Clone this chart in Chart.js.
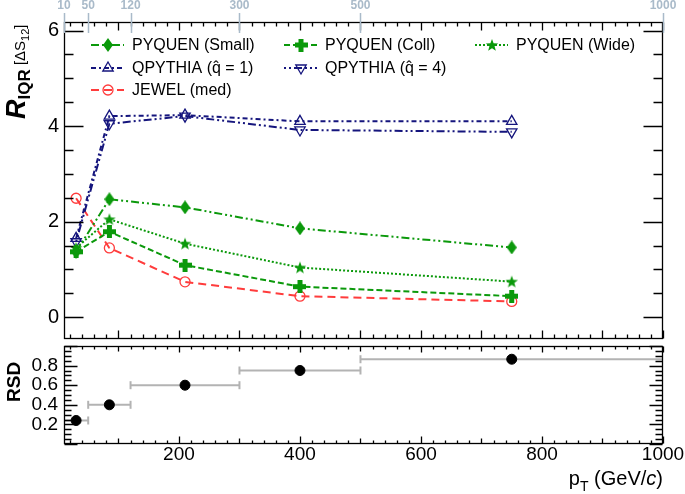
<!DOCTYPE html>
<html>
<head>
<meta charset="utf-8">
<script src="https://cdn.jsdelivr.net/npm/chart.js@4.4.1/dist/chart.umd.min.js"></script>
<style>
  body { margin: 0; background: #fff; width: 685px; height: 494px; overflow: hidden; font-family: "Liberation Sans", Arial, sans-serif; }
  #topBox { position: absolute; left: 0; top: 0; width: 685px; height: 346px; }
  #botBox { position: absolute; left: 0; top: 340px; width: 685px; height: 154px; }
  .ttl { position: absolute; white-space: nowrap; color: #000; transform-origin: 0 0; }
</style>
</head>
<body>
<div id="topBox"><canvas id="rChart"></canvas></div>
<div id="botBox"><canvas id="rsdChart"></canvas></div>

<div class="ttl" id="yTitle" style="left:1px; top:119px; line-height:30px; transform: rotate(-90deg);"><span style="font: italic bold 27px 'Liberation Sans', Arial;">R</span><span style="font: bold 17px 'Liberation Sans', Arial; position: relative; top: 5px;">IQR</span><span style="font: 15px 'Liberation Sans', Arial;"> [ΔS<span style="font-size: 11px; position: relative; top: 4px;">12</span>]</span></div>
<div class="ttl" id="rsdTitle" style="left:4px; top:402px; font: bold 19px 'Liberation Sans', Arial; line-height:19px; transform: rotate(-90deg);">RSD</div>
<div class="ttl" style="right:22px; left:auto; top:468px; font: 20px 'Liberation Sans', Arial; line-height:20px;">p<span style="font-size: 14px; position: relative; top: 6px;">T</span> (GeV/<i>c</i>)</div>

<script>
// pT bins
const ptBins = [30, 85, 210, 400, 750];
const binLow = [10, 50, 120, 300, 500];
const binHigh = [50, 120, 300, 500, 1000];

// R_IQR per model
const pyquenSmall = [1.37, 2.47, 2.30, 1.86, 1.46];
const pyquenColl = [1.37, 1.79, 1.09, 0.64, 0.44];
const pyquenWide = [1.45, 2.05, 1.54, 1.04, 0.745];
const qpythia1 = [1.65, 4.21, 4.23, 4.10, 4.10];
const qpythia4 = [1.58, 4.05, 4.21, 3.92, 3.88];
const jewel = [2.49, 1.45, 0.74, 0.44, 0.33];

// bottom panel
const rsd = [0.24, 0.40, 0.60, 0.75, 0.865];

// tick labels
const topTicks = [10, 50, 120, 300, 500, 1000];
const bottomTicks = [200, 400, 600, 800, 1000];
const rTicks = [0, 2, 4, 6];
const rsdTicks = [0.2, 0.4, 0.6, 0.8];

const green = '#0b990b';
const navy = '#15157d';
const red = '#ff3c3c';
const axisGray = '#a9bac9';

function markerCanvas(kind, color) {
  const c = document.createElement('canvas');
  const g = c.getContext('2d');
  if (kind === 'diamond') {
    c.width = 10; c.height = 14;
    g.fillStyle = color;
    g.beginPath();
    g.moveTo(5, 0); g.lineTo(10, 7); g.lineTo(5, 14); g.lineTo(0, 7);
    g.closePath(); g.fill();
  } else if (kind === 'plus') {
    c.width = 13; c.height = 13;
    g.fillStyle = color;
    g.fillRect(4, 0, 5, 13);
    g.fillRect(0, 4, 13, 5);
  } else if (kind === 'star') {
    c.width = 14; c.height = 14;
    g.fillStyle = color;
    g.beginPath();
    for (let k = 0; k < 10; k++) {
      const r = k % 2 ? 2.7 : 6.5;
      const a = -Math.PI / 2 + k * Math.PI / 5;
      g.lineTo(7 + r * Math.cos(a), 7.5 + r * Math.sin(a));
    }
    g.closePath(); g.fill();
  }
  return c;
}

function series(label, values, color, dash, style, extra) {
  return Object.assign({
    label: label,
    data: values.map((v, i) => ({ x: ptBins[i], y: v })),
    borderColor: color,
    borderWidth: 2,
    borderDash: dash,
    fill: false,
    tension: 0,
    pointStyle: style,
    pointRadius: 6,
    pointBackgroundColor: color,
    pointBorderColor: color,
    pointBorderWidth: 0,
    xAxisID: 'x',
    yAxisID: 'y'
  }, extra || {});
}

// no label overhang padding, fixed axis sizes
function fixHeight(h) {
  return s => { s.height = h; s.paddingLeft = 0; s.paddingRight = 0; };
}
function fixWidth(w) {
  return s => { s.width = w; s.paddingTop = 0; s.paddingBottom = 0; };
}

// inward ROOT-style ticks on all four sides of the frame
function frameTicks(opt) {
  return {
    id: 'frameTicks',
    afterDatasetsDraw(chart) {
      const { ctx, chartArea: a } = chart;
      const xs = chart.scales.x, ys = chart.scales.y;
      const L = Math.round(a.left) + 0.5, R = Math.round(a.right) - 0.5;
      const T = Math.round(a.top) + 0.5, B = Math.round(a.bottom) - 0.5;
      ctx.save();
      ctx.strokeStyle = '#000';
      ctx.lineWidth = 1.3;
      ctx.setLineDash([]);
      ctx.beginPath();
      for (let k = Math.ceil(xs.min / 20); k * 20 <= xs.max; k++) {
        const v = k * 20;
        const px = Math.round(xs.getPixelForValue(v)) + 0.5;
        const big = v % 200 === 0 ? 2 : (v % 100 === 0 ? 1 : 0);
        ctx.moveTo(px, B); ctx.lineTo(px, B - opt.xBottom[big]);
        ctx.moveTo(px, T); ctx.lineTo(px, T + opt.xTop[big]);
      }
      for (let k = Math.ceil(ys.min / opt.yStep - 1e-6); k * opt.yStep <= ys.max + 1e-6; k++) {
        const v = k * opt.yStep;
        const q = v / opt.yMajor;
        const major = Math.abs(q - Math.round(q)) < 1e-6;
        const len = major ? opt.yLen[0] : opt.yLen[1];
        const py = Math.round(ys.getPixelForValue(v)) + 0.5;
        ctx.moveTo(L, py); ctx.lineTo(L + len, py);
        ctx.moveTo(R, py); ctx.lineTo(R - len, py);
      }
      ctx.stroke();
      ctx.strokeRect(L, T, R - L, B - T);
      if (chart.scales.xTop) {
        ctx.strokeStyle = axisGray;
        ctx.lineWidth = 1.5;
        ctx.beginPath();
        chart.scales.xTop.ticks.forEach(t => {
          const px = Math.round(chart.scales.xTop.getPixelForValue(t.value)) + 0.5;
          ctx.moveTo(px, a.top - 9); ctx.lineTo(px, a.top + 11);
        });
        ctx.stroke();
      }
      ctx.restore();
    }
  };
}

const legendSlots = [[91, 45], [284, 45], [475, 45], [91, 68], [284, 68], [91, 90]];

const legendPlugin = {
  id: 'rootLegend',
  afterDraw(chart) {
    const ctx = chart.ctx;
    ctx.save();
    chart.data.datasets.forEach((ds, i) => {
      const [x, y] = legendSlots[i];
      ctx.strokeStyle = ds.borderColor;
      ctx.lineWidth = 2;
      ctx.setLineDash(ds.borderDash);
      ctx.beginPath();
      ctx.moveTo(x, y); ctx.lineTo(x + 33, y);
      ctx.stroke();
      ctx.setLineDash([]);
      ctx.fillStyle = ds.pointBackgroundColor;
      ctx.strokeStyle = ds.pointBorderColor;
      ctx.lineWidth = ds.pointBorderWidth;
      Chart.helpers.drawPoint(ctx, {
        pointStyle: ds.pointStyle,
        rotation: ds.pointRotation || 0,
        radius: ds.pointRadius,
        borderWidth: ds.pointBorderWidth
      }, x + 17, y);
      ctx.fillStyle = '#000';
      ctx.font = "16px 'Liberation Sans', Arial";
      ctx.textBaseline = 'middle';
      ctx.textAlign = 'left';
      ctx.fillText(ds.label, x + 41, y + 1);
    });
    ctx.restore();
  }
};

const open = { pointBackgroundColor: 'rgba(0,0,0,0)', pointBorderWidth: 1.3 };
const plain = v => String(v);

new Chart(document.getElementById('rChart'), {
  type: 'line',
  data: {
    datasets: [
      series('PYQUEN (Small)', pyquenSmall, green, [8, 3, 2, 3, 2, 3], markerCanvas('diamond', green)),
      series('PYQUEN (Coll)', pyquenColl, green, [6, 3], markerCanvas('plus', green)),
      series('PYQUEN (Wide)', pyquenWide, green, [2, 2], markerCanvas('star', green)),
      series('QPYTHIA (q\u0302 = 1)', qpythia1, navy, [5, 3, 2, 3], 'triangle', Object.assign({ pointRadius: 6 }, open)),
      series('QPYTHIA (q\u0302 = 4)', qpythia4, navy, [2, 3, 2, 3, 8, 3], 'triangle', Object.assign({ pointRadius: 6, pointRotation: 180 }, open)),
      series('JEWEL (med)', jewel, red, [8, 5], 'circle', Object.assign({ pointRadius: 5 }, open))
    ]
  },
  options: {
    responsive: true,
    maintainAspectRatio: false,
    animation: false,
    layout: { padding: { left: 0, right: 22, top: 0, bottom: 1 } },
    plugins: { legend: { display: false }, tooltip: { enabled: false } },
    scales: {
      x: { type: 'linear', min: 10, max: 1000, display: false },
      xTop: {
        type: 'linear', position: 'top', min: 10, max: 1000,
        afterBuildTicks: s => { s.ticks = topTicks.map(v => ({ value: v })); },
        afterFit: fixHeight(22),
        grid: { display: false, drawTicks: false },
        border: { display: false },
        ticks: { color: axisGray, callback: plain, font: { size: 12, weight: 'bold', family: "'Liberation Sans', Arial" }, padding: 9, autoSkip: false, maxRotation: 0 }
      },
      y: {
        min: -0.45, max: 6.18,
        afterBuildTicks: s => { s.ticks = rTicks.map(v => ({ value: v })); },
        afterFit: fixWidth(64),
        grid: { display: false, drawTicks: false },
        border: { display: false },
        ticks: { color: '#000', font: { size: 20, family: "'Liberation Sans', Arial" }, padding: 5 }
      }
    }
  },
  plugins: [frameTicks({ xBottom: [4, 8, 8], xTop: [4, 8, 8], yStep: 0.5, yMajor: 2, yLen: [19, 9] }), legendPlugin]
});

const rsdSets = [{
  label: 'RSD',
  type: 'scatter',
  data: rsd.map((v, i) => ({ x: ptBins[i], y: v })),
  pointRadius: 5,
  pointBackgroundColor: '#000',
  pointBorderColor: '#000',
  showLine: false
}];
binLow.forEach((lo, i) => {
  rsdSets.push({
    label: 'bin' + i,
    type: 'line',
    data: [{ x: lo, y: rsd[i] }, { x: binHigh[i], y: rsd[i] }],
    borderColor: '#b3b3b3',
    borderWidth: 2,
    pointStyle: 'line',
    pointRotation: 90,
    pointRadius: 4,
    pointBorderColor: '#b3b3b3',
    pointBorderWidth: 2
  });
});

new Chart(document.getElementById('rsdChart'), {
  type: 'scatter',
  data: { datasets: rsdSets },
  options: {
    responsive: true,
    maintainAspectRatio: false,
    animation: false,
    layout: { padding: { left: 0, right: 22, top: 5, bottom: 0 } },
    plugins: { legend: { display: false }, tooltip: { enabled: false } },
    scales: {
      x: {
        type: 'linear', min: 10, max: 1000,
        afterBuildTicks: s => { s.ticks = bottomTicks.map(v => ({ value: v })); },
        afterFit: fixHeight(50),
        grid: { display: false, drawTicks: false },
        border: { display: false },
        ticks: { color: '#000', callback: plain, font: { size: 19, lineHeight: 1, family: "'Liberation Sans', Arial" }, padding: 1, autoSkip: false, maxRotation: 0 }
      },
      y: {
        min: 0, max: 1,
        afterBuildTicks: s => { s.ticks = rsdTicks.map(v => ({ value: v })); },
        afterFit: fixWidth(64),
        grid: { display: false, drawTicks: false },
        border: { display: false },
        ticks: { color: '#000', font: { size: 19, family: "'Liberation Sans', Arial" }, padding: 6 }
      }
    }
  },
  plugins: [frameTicks({ xBottom: [3, 5, 7], xTop: [3, 5, 6], yStep: 0.05, yMajor: 0.2, yLen: [13, 7] })]
});
</script>
</body>
</html>
